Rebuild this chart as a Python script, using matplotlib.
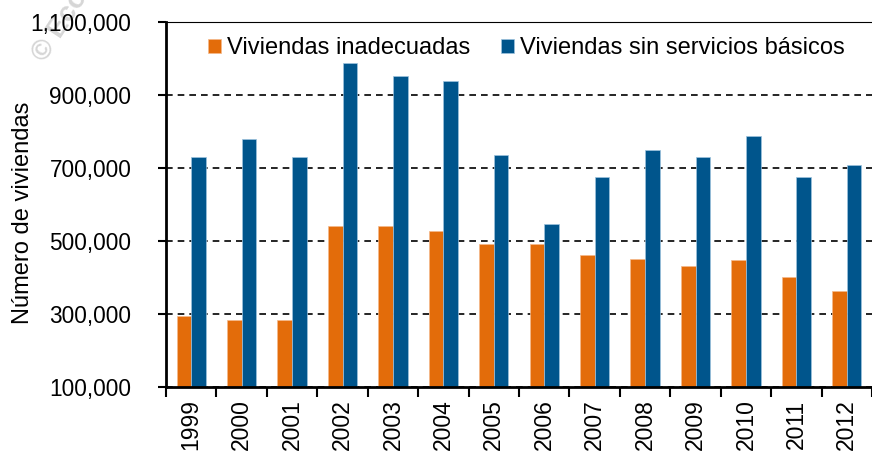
import matplotlib.pyplot as plt
import numpy as np
from matplotlib.ticker import FuncFormatter

plt.rcParams['font.family'] = ['Liberation Sans', 'DejaVu Sans']

years = ['1999', '2000', '2001', '2002', '2003', '2004', '2005',
         '2006', '2007', '2008', '2009', '2010', '2011', '2012']
inadecuadas = [294000, 284000, 284000, 541000, 541000, 527000, 493000,
               493000, 463000, 452000, 432000, 448000, 402000, 363000]
sin_servicios = [730000, 780000, 730000, 987000, 952000, 937000, 735000,
                 546000, 675000, 749000, 730000, 789000, 675000, 709000]

orange = '#E36C0A'
blue = '#00558C'

fig = plt.figure(figsize=(8.72, 4.55), dpi=100)
ax = fig.add_axes([166 / 872, 1 - 387 / 455, 706 / 872, 365 / 455])

x = np.arange(len(years))
w = 0.29
ax.bar(x - w / 2, inadecuadas, w, color=orange, edgecolor='#f5b98a', linewidth=0.5,
       label='Viviendas inadecuadas', zorder=3)
ax.bar(x + w / 2, sin_servicios, w, color=blue, edgecolor='#9ec3de', linewidth=0.5,
       label='Viviendas sin servicios básicos', zorder=3)

ax.set_xlim(-0.5, len(years) - 0.5)
ax.set_ylim(100000, 1100000)
ax.set_yticks(range(100000, 1100001, 200000))
ax.yaxis.set_major_formatter(FuncFormatter(lambda v, p: f'{int(v):,}'))
ax.grid(axis='y', color='black', linestyle=(0, (4, 3)), linewidth=1.2, zorder=1)

# ticks on the category boundaries, labels at the centres
ax.set_xticks(np.arange(-0.5, len(years), 1))
ax.set_xticklabels([])
ax.set_xticks(x, minor=True)
ax.set_xticklabels(years, minor=True, rotation=90, fontsize=16.5)
ax.tick_params(axis='x', which='minor', length=0, pad=9)
ax.tick_params(axis='x', which='major', length=7, width=1.5, direction='out')
ax.tick_params(axis='y', length=6, width=1.5, direction='out', labelsize=16.3, pad=19)

ax.spines['right'].set_visible(False)
ax.spines['top'].set_linewidth(0.8)
ax.spines['left'].set_linewidth(2)
ax.spines['bottom'].set_linewidth(2)
for s in ax.spines.values():
    s.set_zorder(5)

ax.set_ylabel('Número de viviendas', fontsize=17, va='center')
ax.yaxis.set_label_coords(-0.203, 0.478)

ax.legend(loc='upper left', bbox_to_anchor=(0.038, 1.0), ncol=2, frameon=False,
          fontsize=17, handlelength=0.55, handleheight=0.55, handletextpad=0.25,
          columnspacing=1.3, borderaxespad=0.25)

# watermark
fig.text(28 / 872, 1 - 66 / 455, '© Economía', rotation=57, color='#d6d6d6',
         fontsize=20, fontweight='bold', ha='left', va='bottom', zorder=-1)

fig.savefig('out.png', dpi=100)
